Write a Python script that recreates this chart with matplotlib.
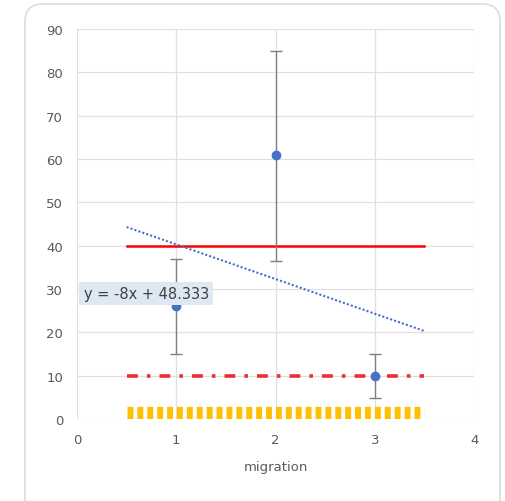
import matplotlib
matplotlib.use('Agg')
from matplotlib import pyplot as plt
from matplotlib.patches import FancyBboxPatch
import numpy as np

# data
x_vals = [1, 2, 3]
y_vals = [26, 61, 10]
err_low = [11, 24.5, 5]
err_high = [11, 24, 5]
line_x = [0.5, 3.5]
red_level = 40
dashdot_level = 10
orange_level = 1.5
slope, intercept = -8, 48.333

fig = plt.figure(figsize=(5.06, 5.02), dpi=100)
fig.patch.set_facecolor('white')
frame = FancyBboxPatch((25/506, -0.05), 475/506, 0.99 + 0.05,
                       boxstyle='round,pad=0,rounding_size=0.035',
                       transform=fig.transFigure, facecolor='white',
                       edgecolor='#dcdcdc', linewidth=1.2, zorder=-5)
fig.patches.append(frame)

ax = fig.add_axes([0.152, 0.163, 0.785, 0.777])
ax.set_zorder(2)
ax.patch.set_alpha(0)
ax.set_xlim(0, 4)
ax.set_ylim(0, 90)
ax.set_xticks([0, 1, 2, 3, 4])
ax.set_yticks(range(0, 91, 10))
ax.grid(color='#e0e0e0', linewidth=0.9)
ax.set_axisbelow(True)
for s in ax.spines.values():
    s.set_visible(False)
ax.tick_params(length=0, colors='#595959', labelsize=9.5, pad=10)

# orange thick dashed line
ax.plot(line_x, [orange_level, orange_level], color='#ffc000', linewidth=9.5,
        dashes=(0.45, 0.3), solid_capstyle='butt', dash_capstyle='butt')
# red dash-dot
ax.plot(line_x, [dashdot_level, dashdot_level], color='#e8303a', linewidth=2.6,
        dashes=(3, 2.5, 1, 2.5))
# red solid
ax.plot(line_x, [red_level, red_level], color='#ff0000', linewidth=1.8)

# error bars and points
ax.errorbar(x_vals, y_vals, yerr=[err_low, err_high], fmt='none',
            ecolor='#7f7f7f', elinewidth=1, capsize=4, capthick=1)
ax.plot(x_vals, y_vals, 'o', color='#4472c4', markersize=6)

# trendline
tx = np.array(line_x)
ax.plot(tx, slope * tx + intercept, color='#4472c4', linewidth=1.5,
        linestyle=(0, (1, 1)))

ax.text(0.07, 29, 'y = -8x + 48.333', fontsize=10.5, color='#404040',
        va='center', ha='left',
        bbox=dict(boxstyle='square,pad=0.3', facecolor='#dde8f4',
                  edgecolor='none'))

ax.set_xlabel('migration', color='#595959', fontsize=9.5, labelpad=10)

plt.savefig('out.png', dpi=100)
